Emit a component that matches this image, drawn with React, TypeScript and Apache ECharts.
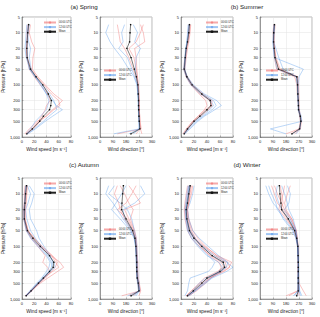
import React, { useEffect, useRef } from "react";
import * as echarts from "echarts";

// Pressure levels (hPa) of the profiles
const LEVELS = [7, 10, 15, 20, 30, 50, 70, 100, 150, 200, 250, 300, 400, 500, 700, 870];
const Y_TICKS = [5, 10, 20, 30, 50, 100, 200, 300, 500, 850, 1000];
const SERIES_NAMES = ["00:00 UTC", "12:00 UTC", "Mean"];

// ---- Spring ----
const SPR_SPD_MEAN = [11, 9.5, 8.5, 8, 8.5, 14, 23, 34, 43, 48, 47, 45, 35, 29, 17, 8];
const SPR_SPD_00 = [
  [14, 12, 16, 21, 18, 17, 26, 38, 52, 66, 58, 50, 38, 30, 18, 9],
  [9, 8, 8, 7, 8, 12, 20, 30, 42, 46, 40, 38, 32, 27, 16, 6],
  [11, 10, 9, 8, 9, 15, 24, 36, 48, 60, 62, 52, 40, 25, 12, 5],
];
const SPR_SPD_12 = [
  [10, 9, 11, 14, 12, 15, 22, 30, 40, 50, 56, 66, 50, 38, 22, 10],
  [8, 7, 6, 5, 7, 13, 21, 33, 45, 52, 55, 57, 44, 35, 20, 8],
  [12, 10, 8, 9, 9, 12, 22, 32, 40, 44, 42, 40, 30, 22, 14, 7],
];
const SPR_DIR_MEAN = [212, 208, 205, 186, 215, 238, 252, 262, 265, 267, 267, 268, 270, 272, 276, 214];
const SPR_DIR_00 = [
  [280, 300, 310, 240, 250, 255, 260, 265, 268, 270, 272, 272, 275, 278, 285, 120],
  [120, 130, 140, 170, 200, 230, 248, 260, 265, 268, 268, 270, 270, 272, 280, 290],
  [300, 280, 250, 200, 235, 250, 258, 265, 270, 272, 270, 272, 275, 276, 278, 250],
];
const SPR_DIR_12 = [
  [60, 40, 70, 100, 150, 200, 235, 255, 262, 265, 266, 265, 268, 270, 272, 95],
  [170, 150, 160, 130, 190, 220, 240, 258, 262, 264, 265, 266, 268, 270, 275, 230],
  [230, 260, 240, 280, 250, 245, 252, 262, 266, 268, 268, 268, 270, 272, 270, 200],
];

// ---- Summer ----
const SUM_SPD_MEAN = [13, 12, 10, 8, 6.5, 5, 9, 17, 32, 45, 46, 40, 29, 20, 10, 5];
const SUM_SPD_00 = [
  [15, 14, 12, 10, 8, 6, 8, 15, 28, 38, 40, 36, 26, 18, 9, 4],
  [12, 11, 10, 9, 7, 5, 10, 18, 34, 48, 46, 38, 27, 18, 8, 3],
  [14, 13, 11, 8, 6, 4, 8, 16, 30, 44, 48, 42, 30, 20, 11, 6],
];
const SUM_SPD_12 = [
  [12, 11, 9, 7, 6, 5, 10, 19, 36, 55, 62, 52, 36, 26, 14, 6],
  [13, 12, 10, 8, 7, 6, 9, 17, 33, 50, 54, 48, 34, 24, 12, 5],
  [11, 10, 9, 8, 6, 4, 8, 15, 30, 46, 50, 44, 32, 22, 10, 4],
];
const SUM_DIR_MEAN = [100, 95, 94, 98, 104, 128, 255, 260, 262, 265, 266, 267, 279, 283, 274, 221];
const SUM_DIR_00 = [
  [95, 90, 92, 95, 100, 115, 240, 255, 258, 262, 265, 266, 275, 280, 270, 180],
  [105, 100, 98, 102, 110, 140, 262, 266, 268, 270, 270, 272, 282, 286, 280, 240],
  [98, 95, 96, 100, 108, 130, 258, 262, 264, 266, 266, 268, 278, 285, 275, 215],
];
const SUM_DIR_12 = [
  [102, 96, 90, 92, 100, 300, 270, 264, 264, 266, 268, 270, 285, 290, 72, 180],
  [100, 98, 95, 110, 130, 160, 250, 258, 260, 262, 264, 264, 276, 282, 278, 250],
  [96, 92, 90, 94, 100, 118, 255, 260, 262, 264, 266, 266, 280, 284, 272, 225],
];

// ---- Autumn ----
const AUT_SPD_MEAN = [7.5, 6, 5, 4, 4, 9, 18, 30, 45, 52, 51, 45, 35, 27, 15, 7];
const AUT_SPD_00 = [
  [6, 5, 4, 3, 3, 7, 16, 28, 48, 62, 68, 58, 42, 30, 16, 6],
  [8, 7, 6, 5, 5, 10, 20, 33, 50, 58, 54, 48, 38, 28, 14, 5],
  [5, 4, 4, 3, 4, 8, 15, 26, 38, 34, 42, 45, 36, 28, 16, 8],
  [9, 8, 7, 6, 5, 10, 20, 32, 48, 55, 60, 50, 35, 26, 14, 7],
];
const AUT_SPD_12 = [
  [12, 20, 16, 12, 14, 24, 28, 36, 46, 50, 48, 44, 34, 26, 14, 6],
  [7, 6, 5, 4, 4, 8, 16, 28, 42, 48, 50, 44, 34, 26, 16, 8],
  [9, 14, 10, 6, 8, 14, 22, 32, 44, 52, 54, 46, 36, 28, 15, 7],
  [6, 5, 4, 3, 3, 7, 14, 26, 40, 46, 44, 40, 32, 24, 13, 6],
];
const AUT_DIR_MEAN = [162, 157, 152, 150, 180, 226, 242, 249, 252, 254, 254, 255, 258, 265, 270, 215];
const AUT_DIR_00 = [
  [200, 240, 280, 170, 200, 235, 248, 252, 255, 258, 258, 260, 262, 270, 278, 150],
  [120, 100, 130, 140, 170, 220, 240, 248, 250, 252, 252, 254, 256, 262, 268, 230],
  [250, 220, 180, 120, 190, 230, 245, 250, 254, 256, 256, 256, 260, 266, 272, 200],
  [140, 170, 200, 230, 210, 240, 252, 256, 258, 262, 262, 262, 264, 272, 282, 270],
];
const AUT_DIR_12 = [
  [60, 40, 90, 120, 160, 215, 238, 246, 250, 250, 252, 252, 254, 260, 266, 240],
  [280, 310, 240, 160, 170, 225, 244, 250, 252, 254, 254, 256, 258, 264, 270, 190],
  [180, 150, 110, 80, 140, 210, 236, 246, 250, 252, 252, 254, 258, 266, 272, 250],
  [100, 60, 140, 190, 220, 238, 250, 255, 258, 260, 260, 262, 264, 270, 276, 220],
];

// ---- Winter ----
const WIN_SPD_MEAN = [14, 12, 10, 8, 9, 13, 20, 32, 48, 65, 67, 60, 40, 32, 19, 10];
const WIN_SPD_00 = [
  [18, 16, 12, 10, 12, 18, 26, 38, 55, 72, 75, 66, 45, 36, 22, 12],
  [12, 10, 8, 6, 8, 12, 20, 34, 52, 68, 70, 62, 42, 30, 16, 8],
  [16, 14, 12, 10, 11, 16, 22, 30, 44, 58, 62, 58, 46, 38, 24, 12],
  [10, 8, 6, 5, 6, 10, 16, 28, 46, 62, 66, 56, 36, 28, 16, 8],
  [15, 13, 11, 9, 10, 14, 22, 36, 56, 78, 74, 64, 44, 34, 20, 10],
];
const WIN_SPD_12 = [
  [14, 12, 10, 8, 9, 13, 20, 34, 52, 70, 80, 70, 48, 38, 22, 10],
  [12, 11, 9, 7, 8, 11, 18, 28, 42, 52, 48, 42, 14, 12, 10, 6],
  [20, 18, 14, 10, 12, 18, 28, 42, 58, 72, 70, 60, 38, 28, 18, 9],
  [11, 9, 7, 6, 7, 10, 16, 26, 40, 58, 64, 58, 42, 34, 20, 11],
  [13, 11, 9, 8, 9, 14, 22, 32, 48, 64, 68, 62, 46, 36, 22, 13],
];
const WIN_DIR_MEAN = [134, 138, 145, 150, 196, 240, 254, 262, 264, 265, 265, 265, 265, 265, 265, 254];
const WIN_DIR_00 = [
  [100, 120, 150, 170, 220, 250, 258, 264, 266, 266, 266, 266, 268, 270, 300, 320],
  [170, 160, 140, 130, 180, 240, 252, 260, 262, 264, 264, 264, 264, 264, 262, 200],
  [80, 100, 120, 160, 210, 248, 256, 262, 264, 266, 266, 266, 266, 268, 270, 250],
  [210, 190, 170, 180, 220, 252, 258, 264, 266, 266, 266, 266, 266, 266, 268, 270],
  [140, 150, 160, 145, 190, 235, 250, 260, 264, 264, 264, 264, 264, 266, 262, 180],
];
const WIN_DIR_12 = [
  [60, 80, 110, 120, 170, 232, 250, 260, 262, 264, 264, 264, 262, 262, 260, 240],
  [150, 170, 190, 200, 230, 250, 256, 262, 264, 266, 266, 266, 266, 268, 275, 290],
  [40, 60, 90, 130, 160, 225, 248, 260, 262, 264, 264, 264, 262, 264, 266, 260],
  [120, 110, 130, 150, 200, 245, 254, 262, 264, 266, 266, 266, 266, 266, 264, 230],
  [190, 210, 200, 170, 210, 246, 256, 264, 266, 266, 268, 268, 268, 270, 272, 280],
];

const SEASONS = [
  { title: "(a) Spring", spd: [SPR_SPD_00, SPR_SPD_12, SPR_SPD_MEAN], dir: [SPR_DIR_00, SPR_DIR_12, SPR_DIR_MEAN] },
  { title: "(b) Summer", spd: [SUM_SPD_00, SUM_SPD_12, SUM_SPD_MEAN], dir: [SUM_DIR_00, SUM_DIR_12, SUM_DIR_MEAN] },
  { title: "(c) Autumn", spd: [AUT_SPD_00, AUT_SPD_12, AUT_SPD_MEAN], dir: [AUT_DIR_00, AUT_DIR_12, AUT_DIR_MEAN] },
  { title: "(d) Winter", spd: [WIN_SPD_00, WIN_SPD_12, WIN_SPD_MEAN], dir: [WIN_DIR_00, WIN_DIR_12, WIN_DIR_MEAN] },
];

const FONT = "Liberation Sans, Arial, sans-serif";
const RED = "rgba(238,100,100,0.55)";
const BLUE = "rgba(80,150,235,0.55)";

function buildOption() {
  const colX = [
    { spd: 19, dir: 100, title: 84, lgS: 43, lgD: 103 },
    { spd: 181, dir: 260, title: 247, lgS: 205, lgD: 265 },
  ];
  const rowY = [
    { top: 17, h: 120, title: 6, lgS: 21, lgD: 69 },
    { top: 178, h: 121, title: 164, lgS: 182, lgD: 228 },
  ];
  const grid: any[] = [];
  const xAxis: any[] = [];
  const yAxis: any[] = [];
  const series: any[] = [];
  const legend: any[] = [];
  const graphic: any[] = [];

  const axisCommon = {
    axisLine: { show: true, lineStyle: { color: "#666", width: 0.6 } },
    splitLine: { show: true, lineStyle: { color: "#e2e2e2", width: 0.5 } },
  };

  SEASONS.forEach((s, si) => {
    const c = colX[si % 2];
    const r = rowY[Math.floor(si / 2)];
    graphic.push({
      type: "text",
      x: c.title,
      y: r.title,
      style: { text: s.title, align: "center", verticalAlign: "middle", fontSize: 6.2, fontFamily: FONT, fill: "#222" },
    });
    ["spd", "dir"].forEach((kind, ki) => {
      const gi = si * 2 + ki;
      const isSpd = kind === "spd";
      grid.push({
        left: isSpd ? c.spd : c.dir,
        top: r.top,
        width: 52,
        height: r.h,
        show: true,
        borderColor: "#888",
        borderWidth: 0.6,
      });
      xAxis.push({
        gridIndex: gi,
        type: "value",
        min: 0,
        max: isSpd ? 80 : 360,
        interval: isSpd ? 20 : 90,
        name: isSpd ? "Wind speed [m s\u207B\u00B9]" : "Wind direction [\u00B0]",
        nameLocation: "middle",
        nameGap: 10,
        nameTextStyle: { fontSize: 4.8, fontFamily: FONT, color: "#222" },
        axisTick: { show: true, inside: true, length: 1.5, lineStyle: { color: "#666", width: 0.5 } },
        axisLabel: { fontSize: 4, fontFamily: FONT, color: "#222", margin: 2, showMaxLabel: true, showMinLabel: true },
        ...axisCommon,
      });
      yAxis.push({
        gridIndex: gi,
        type: "log",
        logBase: 10,
        min: 5,
        max: 1000,
        inverse: true,
        name: "Pressure [hPa]",
        nameLocation: "middle",
        nameGap: isSpd ? 15 : 12,
        nameTextStyle: { fontSize: 4.8, fontFamily: FONT, color: "#222" },
        axisTick: { show: true, inside: true, length: 1.5, customValues: Y_TICKS, lineStyle: { color: "#666", width: 0.5 } },
        axisLabel: {
          fontSize: 4, fontFamily: FONT, color: "#222", margin: 2, customValues: Y_TICKS,
          showMaxLabel: true, showMinLabel: true, hideOverlap: false,
        },
        ...axisCommon,
      });
      const [reds, blues, mean] = (s as any)[kind];
      reds.forEach((vals: number[]) => {
        series.push({
          type: "line", name: SERIES_NAMES[0], xAxisIndex: gi, yAxisIndex: gi,
          data: LEVELS.map((p, i) => [vals[i], p]),
          symbol: "none", lineStyle: { color: RED, width: 0.7 }, itemStyle: { color: RED },
        });
      });
      blues.forEach((vals: number[]) => {
        series.push({
          type: "line", name: SERIES_NAMES[1], xAxisIndex: gi, yAxisIndex: gi,
          data: LEVELS.map((p, i) => [vals[i], p]),
          symbol: "none", lineStyle: { color: BLUE, width: 0.7 }, itemStyle: { color: BLUE },
        });
      });
      series.push({
        type: "line", name: SERIES_NAMES[2], xAxisIndex: gi, yAxisIndex: gi,
        data: LEVELS.map((p, i) => [mean[i], p]),
        symbol: "rect", symbolSize: 1.4, showSymbol: true, z: 5,
        lineStyle: { color: "#222", width: 0.6 }, itemStyle: { color: "#111" },
      });
      legend.push({
        data: SERIES_NAMES,
        left: isSpd ? c.lgS : c.lgD,
        top: isSpd ? r.lgS : r.lgD,
        orient: "vertical",
        itemWidth: 12,
        itemHeight: 3,
        itemGap: 1.6,
        padding: 0,
        selectedMode: false,
        textStyle: { fontSize: 2.6, fontFamily: FONT, color: "#222", padding: [0, 0, 0, -2] },
      });
    });
  });

  return { animation: false, backgroundColor: "#fff", grid, xAxis, yAxis, series, legend, graphic };
}

export default function App() {
  const ref = useRef<HTMLDivElement>(null);
  useEffect(() => {
    if (!ref.current) return;
    const chart = echarts.init(ref.current, undefined, { renderer: "svg" });
    chart.setOption(buildOption() as any);
    return () => chart.dispose();
  }, []);
  return <div ref={ref} style={{ position: "absolute", left: 0, top: 0, width: 320, height: 317 }} />;
}
